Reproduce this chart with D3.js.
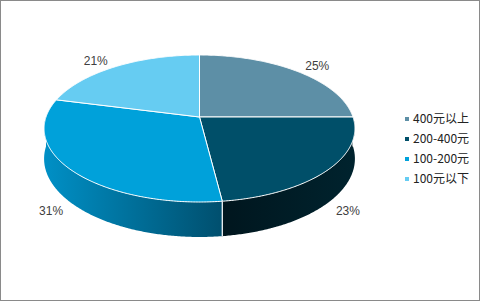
<!DOCTYPE html>
<html><head><meta charset="utf-8">
<script src="https://cdn.jsdelivr.net/npm/d3@7"></script>
<style>html,body{margin:0;padding:0;background:#fff;}svg{display:block;}</style>
</head><body>
<script>
// ---- data ----
const categories = ["400元以上", "200-400元", "100-200元", "100元以下"];
const values = [25, 23, 31, 21];
const labels = ["25%", "23%", "31%", "21%"];
const topColors = ["#5D8FA6", "#004F69", "#00A1DA", "#66CCF2"];
const sideColorsA = ["#3f6a7e", "#00161e", "#0090c6", "#4bb0d6"];
const sideColorsB = ["#4d7b90", "#00232e", "#004f6e", "#3c9cc2"];

// ---- layout ----
const W = 480, H = 301;
const cx = 199.5, cy = 117;       // projected pie centre
const A = 153.5, B = 71.7, P = 0.1565, T = 29.5;

const svg = d3.select("body").append("svg").attr("width", W).attr("height", H);
svg.append("rect").attr("x", 0.5).attr("y", 0.5).attr("width", W - 1).attr("height", H - 1)
  .attr("fill", "#fff").attr("stroke", "#8a8a8a").attr("stroke-width", 1);

const uScale = d3.scaleLinear().domain([-1, 1]).range([-A, A]);
const vScale = d3.scaleLinear().domain([-1, 1]).range([-B, B]);

function proj(theta, r, depth) {
  const u = Math.sin(theta) * r, v = -Math.cos(theta) * r;
  const w = 1 - P * v;
  return [cx + uScale(u) / w, cy + (vScale(v) + (depth || 0)) / w];
}

const pie = d3.pie().sort(null).value(d => d)(values);
const line = d3.line();
const step = Math.PI / 360;
function rimPts(a1, a2, depth) {
  const pts = [];
  const n = Math.max(2, Math.ceil((a2 - a1) / step));
  for (let i = 0; i <= n; i++) pts.push(proj(a1 + (a2 - a1) * i / n, 1, depth));
  return pts;
}

const defs = svg.append("defs");

// sides (front half only)
const frontA = Math.PI / 2, frontB = 3 * Math.PI / 2;
pie.forEach((s, i) => {
  const a1 = Math.max(s.startAngle, frontA), a2 = Math.min(s.endAngle, frontB);
  if (a2 <= a1) return;
  const top = rimPts(a1, a2, 0);
  const bot = rimPts(a1, a2, T).reverse();
  const xs = top.map(p => p[0]);
  const gid = "g" + i;
  const g = defs.append("linearGradient").attr("id", gid).attr("gradientUnits", "userSpaceOnUse")
    .attr("x1", d3.min(xs)).attr("x2", d3.max(xs)).attr("y1", 0).attr("y2", 0);
  g.append("stop").attr("offset", 0).attr("stop-color", sideColorsA[i]);
  g.append("stop").attr("offset", 1).attr("stop-color", sideColorsB[i]);
  svg.append("path").attr("d", line(top.concat(bot)) + "Z").attr("fill", `url(#${gid})`);
});
// white division lines on side
pie.forEach(s => {
  const a = s.startAngle;
  if (a > frontA && a < frontB) {
    svg.append("path").attr("d", line([proj(a, 1, 0), proj(a, 1, T)]))
      .attr("stroke", "#fff").attr("stroke-width", 1.2).attr("fill", "none");
  }
});

// top face
pie.forEach((s, i) => {
  const pts = [[cx, cy]].concat(rimPts(s.startAngle, s.endAngle, 0));
  svg.append("path").attr("d", line(pts) + "Z").attr("fill", topColors[i])
    .attr("stroke", "#fff").attr("stroke-width", 1).attr("stroke-linejoin", "round");
});

// labels: just outside the rim at the slice's mid-angle
pie.forEach((s, i) => {
  const m = (s.startAngle + s.endAngle) / 2;
  const front = -Math.cos(m) > 0;
  const p = proj(m, 1, front ? T : 0);
  const dx = 20 * Math.sign(Math.sin(m));
  const dy = front ? 8 : -6;
  svg.append("text").attr("x", p[0] + dx).attr("y", p[1] + dy)
    .attr("text-anchor", "middle").attr("dy", "0.35em")
    .attr("font-family", "'Liberation Sans', Arial, sans-serif").attr("font-size", 12)
    .attr("fill", "#404040").text(labels[i]);
});

// legend
const ly = d3.scalePoint().domain(categories).range([119, 179]);
const leg = svg.append("g");
categories.forEach((c, i) => {
  leg.append("rect").attr("x", 405).attr("y", ly(c) - 2).attr("width", 4).attr("height", 4).attr("fill", topColors[i]);
  leg.append("text").attr("x", 413).attr("y", ly(c)).attr("dy", "0.36em")
    .attr("font-family", "'Noto Sans CJK SC', sans-serif").attr("font-size", 12)
    .attr("fill", "#222").text(c);
});
</script>
</body></html>
